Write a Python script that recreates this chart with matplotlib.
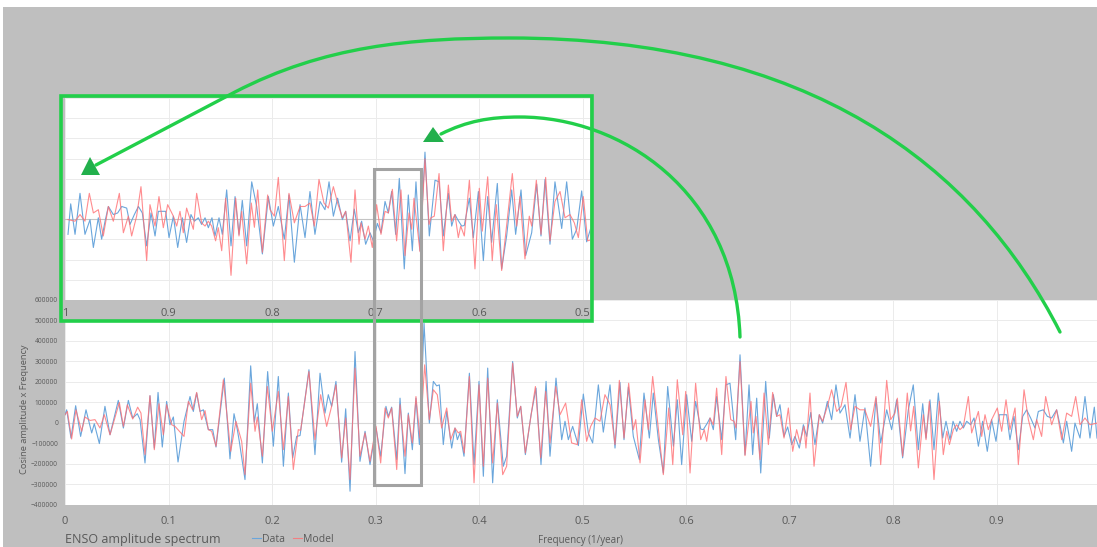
import matplotlib
matplotlib.use("Agg")
import matplotlib.pyplot as plt
from matplotlib.patches import Rectangle, Polygon, PathPatch
from matplotlib.path import Path

plt.rcParams['font.family'] = ['Open Sans', 'DejaVu Sans']

W, H = 1097, 547

# Data series (turning points)
freq_data = [
    0.0000, 0.0016, 0.0058, 0.0103, 0.0151, 0.0203, 0.0258, 0.0283, 0.0332, 0.0386,
    0.0435, 0.0515, 0.0564, 0.0612, 0.0654, 0.0699, 0.0725, 0.0773, 0.0821, 0.0863,
    0.0899, 0.0940, 0.0982, 0.1014, 0.1047, 0.1092, 0.1150, 0.1208, 0.1240, 0.1272,
    0.1304, 0.1337, 0.1385, 0.1427, 0.1459, 0.1539, 0.1594, 0.1633, 0.1665, 0.1684,
    0.1739, 0.1794, 0.1829, 0.1858, 0.1907, 0.1958, 0.2013, 0.2061, 0.2110, 0.2158,
    0.2200, 0.2238, 0.2271, 0.2357, 0.2415, 0.2464, 0.2512, 0.2544, 0.2576, 0.2618,
    0.2673, 0.2712, 0.2754, 0.2802, 0.2850, 0.2899, 0.2947, 0.3005, 0.3050, 0.3101,
    0.3124, 0.3156, 0.3205, 0.3237, 0.3285, 0.3317, 0.3356, 0.3391, 0.3424, 0.3469,
    0.3520, 0.3559, 0.3591, 0.3617, 0.3655, 0.3688, 0.3736, 0.3768, 0.3791, 0.3816,
    0.3855, 0.3907, 0.3952, 0.4000, 0.4042, 0.4084, 0.4132, 0.4177, 0.4235, 0.4267,
    0.4325, 0.4370, 0.4403, 0.4448, 0.4503, 0.4551, 0.4599, 0.4648, 0.4686, 0.4744,
    0.4799, 0.4831, 0.4863, 0.4905, 0.4960, 0.5008, 0.5056, 0.5098, 0.5153, 0.5201,
    0.5266, 0.5314, 0.5362, 0.5401, 0.5443, 0.5491, 0.5549, 0.5594, 0.5646, 0.5684,
    0.5733, 0.5781, 0.5823, 0.5878, 0.5916, 0.5958, 0.6006, 0.6055, 0.6093, 0.6142,
    0.6167, 0.6206, 0.6232, 0.6264, 0.6296, 0.6345, 0.6386, 0.6425, 0.6480, 0.6522,
    0.6570, 0.6609, 0.6644, 0.6683, 0.6722, 0.6770, 0.6805, 0.6844, 0.6876, 0.6908,
    0.6947, 0.6982, 0.7021, 0.7053, 0.7095, 0.7134, 0.7166, 0.7205, 0.7246, 0.7288,
    0.7320, 0.7366, 0.7407, 0.7449, 0.7488, 0.7536, 0.7585, 0.7633, 0.7681, 0.7729,
    0.7784, 0.7836, 0.7881, 0.7939, 0.7987, 0.8035, 0.8093, 0.8148, 0.8196, 0.8245,
    0.8287, 0.8319, 0.8357, 0.8396, 0.8438, 0.8480, 0.8512, 0.8551, 0.8580, 0.8615,
    0.8647, 0.8680, 0.8712, 0.8750, 0.8783, 0.8825, 0.8866, 0.8911, 0.8953, 0.8995,
    0.9027, 0.9098, 0.9130, 0.9169, 0.9211, 0.9253, 0.9291, 0.9330, 0.9372, 0.9404,
    0.9452, 0.9491, 0.9533, 0.9581, 0.9613, 0.9646, 0.9678, 0.9726, 0.9758, 0.9807,
    0.9855, 0.9903, 0.9945, 0.9971,
]
amp_data = [
    39000, 63000, -75000, 83000, -67000, 63000, -50000, -5000, -102000, 80000,
    -59000, 109000, -26000, 109000, 23000, 44000, 15000, -197000, 132000, -124000,
    148000, -119000, 104000, -10000, 28000, -192000, 7000, 128000, 55000, 145000,
    55000, 63000, -34000, -34000, -119000, 218000, -177000, 44000, -34000, -91000,
    -278000, 278000, 2000, 93000, -197000, 250000, -115000, 226000, -213000, 145000,
    -172000, -67000, -63000, 259000, -156000, 242000, 47000, 137000, 80000, 202000,
    -193000, 68000, -335000, 348000, -189000, -42000, -205000, -26000, -164000, 80000,
    31000, 76000, -180000, 120000, -249000, 47000, -132000, 120000, -107000, 486000,
    -2000, 202000, 180000, 185000, -107000, 55000, -124000, -26000, -83000, -50000,
    -164000, 242000, -205000, 202000, -262000, 267000, -294000, 112000, -213000, -164000,
    299000, 23000, 80000, -156000, 39000, 169000, -205000, 202000, -164000, 218000,
    -83000, 7000, -83000, -18000, -112000, 140000, -50000, -99000, 185000, -46000,
    185000, -124000, 197000, -83000, 174000, -67000, -180000, 145000, -75000, 145000,
    -83000, -246000, 177000, -115000, 112000, -205000, 137000, -91000, 104000, -31000,
    -34000, -2000, 23000, -34000, 128000, -83000, 185000, 193000, -83000, 332000,
    -156000, 185000, -156000, 120000, -246000, 202000, -75000, 137000, 31000, 88000,
    -67000, -21000, -107000, -67000, -124000, -10000, -67000, 50000, -107000, 39000,
    -2000, 104000, 15000, 185000, 47000, 88000, -75000, 137000, -91000, 72000,
    -213000, 120000, -99000, 63000, -34000, 112000, -172000, 63000, 185000, -132000,
    93000, -75000, 112000, -132000, 145000, -75000, 7000, -83000, 7000, -42000,
    7000, -26000, 7000, -10000, 23000, -115000, 7000, -140000, 15000, -91000,
    39000, 39000, -83000, 31000, -132000, 31000, 63000, 23000, -26000, 55000,
    63000, 31000, 23000, 63000, -10000, -99000, 7000, -140000, -2000, -75000,
    128000, -75000, 76000, -75000,
]

# Model series
freq_model = [
    0.0000, 0.0023, 0.0064, 0.0106, 0.0161, 0.0193, 0.0242, 0.0290, 0.0338, 0.0380,
    0.0435, 0.0525, 0.0564, 0.0602, 0.0654, 0.0702, 0.0734, 0.0773, 0.0821, 0.0863,
    0.0908, 0.0950, 0.0982, 0.1031, 0.1063, 0.1150, 0.1192, 0.1233, 0.1272, 0.1320,
    0.1353, 0.1385, 0.1417, 0.1459, 0.1530, 0.1601, 0.1652, 0.1707, 0.1739, 0.1794,
    0.1836, 0.1858, 0.1907, 0.1955, 0.2003, 0.2061, 0.2110, 0.2158, 0.2206, 0.2254,
    0.2277, 0.2357, 0.2415, 0.2470, 0.2528, 0.2576, 0.2618, 0.2673, 0.2712, 0.2754,
    0.2802, 0.2850, 0.2899, 0.2947, 0.3005, 0.3050, 0.3092, 0.3124, 0.3156, 0.3205,
    0.3237, 0.3285, 0.3317, 0.3356, 0.3391, 0.3430, 0.3475, 0.3520, 0.3559, 0.3597,
    0.3639, 0.3688, 0.3726, 0.3768, 0.3800, 0.3823, 0.3858, 0.3907, 0.3952, 0.4000,
    0.4042, 0.4084, 0.4132, 0.4177, 0.4229, 0.4267, 0.4325, 0.4370, 0.4403, 0.4448,
    0.4545, 0.4596, 0.4644, 0.4686, 0.4741, 0.4783, 0.4837, 0.4895, 0.4950, 0.4992,
    0.5040, 0.5079, 0.5121, 0.5169, 0.5217, 0.5266, 0.5314, 0.5356, 0.5401, 0.5446,
    0.5491, 0.5514, 0.5556, 0.5604, 0.5636, 0.5678, 0.5781, 0.5833, 0.5872, 0.5916,
    0.5968, 0.5997, 0.6039, 0.6093, 0.6142, 0.6177, 0.6200, 0.6232, 0.6264, 0.6296,
    0.6345, 0.6386, 0.6432, 0.6464, 0.6483, 0.6522, 0.6570, 0.6628, 0.6650, 0.6676,
    0.6715, 0.6754, 0.6796, 0.6837, 0.6876, 0.6908, 0.6947, 0.6989, 0.7031, 0.7069,
    0.7101, 0.7140, 0.7159, 0.7198, 0.7237, 0.7288, 0.7320, 0.7366, 0.7407, 0.7456,
    0.7498, 0.7546, 0.7591, 0.7633, 0.7681, 0.7729, 0.7784, 0.7836, 0.7881, 0.7939,
    0.7977, 0.8019, 0.8042, 0.8093, 0.8138, 0.8170, 0.8200, 0.8245, 0.8293, 0.8319,
    0.8351, 0.8396, 0.8448, 0.8486, 0.8519, 0.8545, 0.8583, 0.8615, 0.8647, 0.8680,
    0.8728, 0.8760, 0.8825, 0.8857, 0.8889, 0.8921, 0.8953, 0.9008, 0.9050, 0.9092,
    0.9130, 0.9179, 0.9211, 0.9266, 0.9308, 0.9356, 0.9388, 0.9436, 0.9475, 0.9533,
    0.9581, 0.9630, 0.9678, 0.9726, 0.9765, 0.9807, 0.9855, 0.9903, 0.9971,
]
amp_model = [
    39000, 55000, -80000, 63000, -42000, 28000, 11000, 15000, -26000, 39000,
    -59000, 99000, -18000, 88000, 18000, 76000, 47000, -156000, 132000, -132000,
    93000, -59000, 88000, -10000, -18000, -67000, 104000, 63000, 148000, 15000,
    59000, -34000, -42000, -115000, 210000, -140000, 7000, -91000, -254000, 193000,
    -42000, 28000, -164000, 177000, -42000, 153000, -132000, 128000, -229000, -34000,
    -37000, 250000, -83000, 137000, -18000, 80000, 185000, -172000, 23000, -278000,
    267000, -164000, -50000, -189000, -18000, -197000, 72000, 23000, 72000, -229000,
    88000, -164000, 39000, -99000, 128000, -75000, 283000, 15000, 161000, 137000,
    -26000, 72000, -83000, -26000, -50000, -42000, -148000, 226000, -294000, 185000,
    -213000, 218000, -197000, 96000, -254000, -213000, 291000, 31000, 80000, -148000,
    177000, -172000, 153000, -99000, 177000, 39000, 96000, -99000, -107000, 112000,
    -91000, -18000, 23000, 7000, 137000, 88000, -107000, 207000, -75000, 193000,
    -34000, 15000, -197000, 112000, -34000, 226000, -254000, 72000, -205000, 210000,
    -59000, 153000, -246000, 193000, -83000, -34000, -91000, 23000, -10000, 169000,
    -156000, 226000, 15000, 7000, -26000, 299000, -161000, 104000, -50000, 31000,
    -180000, 145000, -107000, 148000, 31000, 39000, -75000, 72000, -140000, -34000,
    -99000, -18000, -124000, 145000, -213000, 39000, 7000, 80000, 161000, 55000,
    80000, 197000, -34000, 80000, 63000, 63000, -18000, 128000, -205000, 207000,
    15000, 47000, 120000, -164000, 145000, -40000, 80000, -221000, 39000, -83000,
    104000, -278000, 104000, -156000, -42000, -107000, -34000, -10000, -34000, -18000,
    128000, -50000, 55000, -67000, 39000, -34000, 15000, 72000, -42000, 112000,
    -34000, 72000, -205000, 161000, 15000, -83000, 15000, -67000, 128000, -10000,
    63000, -83000, 47000, 31000, 128000, -10000, 23000, -10000, -2000,
]

main_ticks = [0, 0.1, 0.2, 0.3, 0.4, 0.5, 0.6, 0.7, 0.8, 0.9]
main_labels = ['0', '0.1', '0.2', '0.3', '0.4', '0.5', '0.6', '0.7', '0.8', '0.9']
inset_ticks = [1, 0.9, 0.8, 0.7, 0.6, 0.5]
inset_labels = ['1', '0.9', '0.8', '0.7', '0.6', '0.5']
y_ticks = list(range(-400000, 600001, 100000))

BLUE = '#6AA6DC'
RED = '#FF6F73'
GRAY_BG = '#BFBFBF'
TXT = '#595959'
GREEN = '#22CF4A'


def box(x0, y0, x1, y1):
    # pixel box (top-left origin) -> figure fraction [left, bottom, w, h]
    return [x0 / W, 1 - y1 / H, (x1 - x0) / W, (y1 - y0) / H]


def fp(x, y):
    return (x / W, 1 - y / H)


fig = plt.figure(figsize=(W / 100, H / 100), dpi=100)
fig.patch.set_facecolor('white')
fig.add_artist(Rectangle(fp(3, 547), (W - 3) / W, (547 - 7) / H,
                         transform=fig.transFigure, facecolor=GRAY_BG,
                         edgecolor='none', zorder=-5))


def style_axes(ax, zero_color):
    ax.set_facecolor('white')
    for s in ax.spines.values():
        s.set_visible(False)
    ax.set_ylim(-400000, 600000)
    ax.set_yticks(y_ticks)
    ax.grid(True, color='#EBEBEB', lw=0.7)
    ax.set_axisbelow(True)
    ax.axhline(0, color=zero_color, lw=0.8, zorder=1)
    ax.plot(freq_data, amp_data, color=BLUE, lw=0.8, label='Data', zorder=2,
            solid_joinstyle='round')
    ax.plot(freq_model, amp_model, color=RED, lw=0.8, alpha=0.8, label='Model', zorder=3,
            solid_joinstyle='round')


# main chart
ax = fig.add_axes(box(65, 300, 1097, 504.5), zorder=0)
style_axes(ax, '#D9D9D9')
ax.set_xlim(0, 1032 / 1035)
ax.set_xticks(main_ticks)
ax.set_xticklabels(main_labels)
ax.tick_params(axis='x', length=0, pad=8, labelsize=8, labelcolor=TXT)
ax.tick_params(axis='y', length=0, pad=5, labelsize=4.8, labelcolor=TXT)

fig.text(*fp(25, 409), 'Cosine amplitude x Frequency', rotation=90, fontsize=6.7,
         color=TXT, ha='center', va='center')
fig.text(*fp(580, 541), 'Frequency (1/year)', fontsize=7, color=TXT,
         ha='center', va='center')
fig.text(*fp(65, 539), 'ENSO amplitude spectrum', fontsize=9, color=TXT,
         ha='left', va='center')
ax.legend(loc='center left', bbox_to_anchor=fp(252, 539), bbox_transform=fig.transFigure,
          ncol=2, frameon=False, fontsize=7.5, handlelength=0.9, handletextpad=0.1,
          columnspacing=0.7, borderpad=0, borderaxespad=0, labelcolor=TXT)

# grey label band of the mirrored inset
fig.add_artist(Rectangle(fp(60, 322), 532 / W, 22 / H, transform=fig.transFigure,
                         facecolor=GRAY_BG, edgecolor='none', zorder=1))

# mirrored inset (1 -> 0.5)
axi = fig.add_axes(box(65, 98, 590, 300), zorder=2)
style_axes(axi, '#C4C4C4')
axi.set_xlim(1.0, 1.0 - 525 / 1035)
axi.set_xticks(inset_ticks)
axi.set_xticklabels(inset_labels)
axi.tick_params(axis='x', length=0, pad=6, labelsize=8, labelcolor=TXT)
axi.tick_params(axis='y', length=0, labelleft=False)

# green frame round the inset
fig.add_artist(Rectangle(fp(60.5, 321), 531 / W, 225.5 / H, transform=fig.transFigure,
                         facecolor='none', edgecolor=GREEN, lw=2.6, zorder=3))

# grey selection box
fig.add_artist(Rectangle(fp(373.5, 484.5), 47 / W, 316 / H, transform=fig.transFigure,
                         facecolor='none', edgecolor='#A3A3A3', lw=2.2, zorder=4))

# green arrows
arc1 = [(1060, 332), (975, 165), (810, 38), (510, 38),
        (410, 38), (324, 46), (235, 92), (96, 165)]
codes1 = [Path.MOVETO, Path.CURVE4, Path.CURVE4, Path.CURVE4,
          Path.CURVE4, Path.CURVE4, Path.CURVE4, Path.LINETO]
arc2 = [(740, 337), (735, 190), (620, 117), (520, 117),
        (490, 117), (467, 121), (441, 134)]
codes2 = [Path.MOVETO, Path.CURVE4, Path.CURVE4, Path.CURVE4,
          Path.CURVE4, Path.CURVE4, Path.CURVE4]
for pts, codes in [(arc1, codes1), (arc2, codes2)]:
    path = Path([fp(x, y) for x, y in pts], codes)
    fig.add_artist(PathPatch(path, transform=fig.transFigure, facecolor='none',
                             edgecolor=GREEN, lw=2.4, capstyle='round', zorder=5))

for tri in [[(81, 175), (100, 175), (90, 157)], [(423, 142), (444, 142), (433, 127)]]:
    fig.add_artist(Polygon([fp(x, y) for x, y in tri], closed=True,
                           transform=fig.transFigure, facecolor='#22B04C',
                           edgecolor='none', zorder=6))

fig.savefig('out.png', dpi=100)
